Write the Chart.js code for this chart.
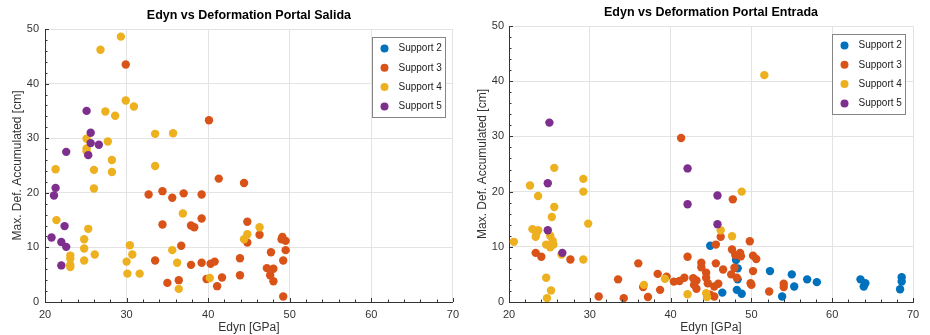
<!DOCTYPE html>
<html>
<head>
<meta charset="utf-8">
<script src="https://cdn.jsdelivr.net/npm/chart.js@4.4.1/dist/chart.umd.min.js"></script>
<style>
  body { margin: 0; background: #fff; width: 930px; height: 335px; overflow: hidden; position: relative; }
  .pane { position: absolute; top: 0; width: 465px; height: 335px; }
</style>
</head>
<body>
<div class="pane" style="left:0"><canvas id="salida"></canvas></div>
<div class="pane" style="left:465px"><canvas id="entrada"></canvas></div>
<script>
// --- Datos: Portal Salida ---
const salidaS2Edyn = [];
const salidaS2Def = [];
const salidaS3Edyn = [29.9, 40.1, 41.3, 44.4, 32.7, 34.4, 35.6, 37.0, 39.2, 34.4, 37.9, 38.3, 39.2, 44.8, 36.7, 44.8, 46.3, 49.1, 49.0, 49.5, 49.5, 47.7, 33.5, 37.9, 39.2, 40.3, 40.8, 43.9, 47.2, 48.0, 47.6, 48.0, 49.2, 43.9, 41.7, 41.1, 39.8, 36.4, 35.0, 49.2];
const salidaS3Def = [43.5, 33.3, 22.6, 21.8, 19.7, 20.3, 19.1, 19.9, 19.7, 14.2, 14.0, 13.7, 15.3, 14.7, 10.3, 10.9, 12.3, 11.9, 11.5, 11.2, 9.5, 9.1, 7.6, 6.8, 7.2, 7.0, 7.4, 8.0, 6.2, 6.1, 4.9, 3.8, 7.6, 4.9, 4.5, 2.9, 4.2, 4.0, 3.5, 1.0];
const salidaS4Edyn = [29.3, 26.8, 29.9, 30.9, 27.4, 28.6, 33.5, 35.7, 25.1, 27.7, 25.1, 25.1, 28.2, 28.2, 26.0, 21.3, 26.0, 33.5, 36.9, 21.4, 25.3, 24.8, 24.8, 24.8, 23.1, 23.1, 23.1, 23.1, 26.1, 30.4, 30.7, 30.0, 30.1, 31.6, 35.6, 36.2, 36.4, 40.2, 46.3, 44.8, 44.4];
const salidaS4Def = [48.6, 46.2, 36.9, 35.8, 34.9, 34.1, 30.8, 30.9, 29.9, 29.4, 28.1, 27.6, 26.0, 23.8, 24.2, 24.3, 20.8, 24.9, 16.2, 15.0, 13.4, 11.5, 9.8, 7.6, 8.5, 7.9, 6.8, 6.4, 8.7, 10.4, 8.7, 7.4, 5.2, 5.2, 9.5, 7.2, 2.4, 4.4, 13.7, 12.4, 11.5];
const salidaS5Edyn = [25.1, 25.6, 25.6, 26.6, 25.3, 22.6, 21.3, 21.1, 22.4, 20.8, 22.0, 22.6, 22.0];
const salidaS5Def = [35.0, 31.0, 29.1, 28.8, 26.9, 27.5, 20.9, 19.5, 13.9, 11.8, 11.0, 10.1, 6.7];

// --- Datos: Portal Entrada ---
const entradaS2Edyn = [44.9, 48.1, 48.3, 48.3, 48.2, 48.8, 46.4, 52.3, 53.8, 55.0, 55.3, 56.9, 58.1, 63.5, 63.9, 64.1, 68.6, 68.6, 68.4];
const entradaS2Def = [10.2, 7.6, 6.1, 4.1, 2.2, 1.5, 1.7, 5.6, 1.0, 5.0, 2.8, 4.1, 3.6, 4.1, 2.8, 3.4, 4.5, 3.7, 2.3];
const entradaS3Edyn = [41.3, 47.7, 49.8, 46.2, 45.6, 47.6, 48.6, 48.7, 48.0, 50.2, 50.6, 42.1, 43.8, 43.8, 45.6, 47.9, 46.5, 50.2, 44.4, 44.4, 44.6, 47.5, 48.2, 36.0, 38.4, 39.5, 40.4, 41.1, 41.7, 42.8, 42.9, 43.2, 43.2, 45.9, 45.4, 49.9, 50.0, 52.2, 54.0, 54.0, 33.5, 36.6, 38.7, 31.1, 34.2, 37.2, 44.9, 45.4, 23.3, 24.0, 27.6];
const entradaS3Def = [29.7, 18.6, 11.0, 11.8, 10.4, 9.5, 8.9, 8.3, 8.5, 8.4, 7.8, 8.2, 7.1, 6.3, 7.0, 6.2, 5.9, 5.6, 5.3, 4.4, 3.4, 5.0, 4.4, 7.0, 5.1, 4.6, 3.7, 3.8, 4.4, 4.3, 3.1, 3.9, 2.4, 3.3, 2.8, 3.4, 3.1, 1.9, 3.3, 2.7, 4.1, 2.7, 2.2, 1.0, 0.7, 0.9, 1.3, 1.0, 8.9, 8.2, 7.7];
const entradaS4Edyn = [51.6, 48.8, 46.2, 47.6, 25.6, 29.2, 29.2, 22.6, 23.6, 25.6, 25.3, 29.8, 22.9, 23.6, 23.4, 23.3, 25.1, 25.4, 25.5, 24.6, 25.1, 20.6, 26.5, 29.2, 24.6, 25.2, 24.7, 36.7, 39.3, 42.1, 44.4, 44.5];
const entradaS4Def = [41.1, 20.0, 13.0, 11.9, 24.3, 22.3, 20.0, 21.1, 19.2, 17.2, 15.4, 14.2, 13.2, 13.0, 12.4, 11.8, 12.0, 11.1, 10.4, 10.4, 9.9, 10.9, 8.6, 7.7, 4.4, 2.1, 0.7, 3.1, 4.2, 1.4, 1.6, 0.9];
const entradaS5Edyn = [25.0, 24.8, 42.1, 42.1, 45.8, 45.8, 24.8, 26.6];
const entradaS5Def = [32.5, 21.5, 24.2, 17.7, 19.3, 14.1, 13.0, 8.9];

// Etiquetas y ejes
const seriesLabels = ['Support 2', 'Support 3', 'Support 4', 'Support 5'];
const xTicks = [20, 30, 40, 50, 60, 70];
const yTicks = [0, 10, 20, 30, 40, 50];

const COLORS = ['#0072BD', '#D95319', '#EDB120', '#7E2F8E'];
const FONT = '"Liberation Sans", Arial, Helvetica, sans-serif';
const AXIS_COLOR = '#333333';

function toPoints(xs, ys) {
    return xs.map((x, i) => ({ x, y: ys[i] }));
}

// Titulo centrado sobre el area del grafico
const plotTitle = {
    id: 'plotTitle',
    afterDraw(chart, args, opts) {
        const { ctx, chartArea } = chart;
        ctx.save();
        ctx.font = `bold 12.5px ${FONT}`;
        ctx.fillStyle = '#000';
        ctx.textAlign = 'center';
        ctx.textBaseline = 'middle';
        ctx.fillText(opts.text, (chartArea.left + chartArea.right) / 2, opts.y);
        ctx.restore();
    }
};

// Marcas hacia dentro (mayores y menores), estilo MATLAB
const innerTicks = {
    id: 'innerTicks',
    afterDraw(chart) {
        const { ctx, chartArea, scales } = chart;
        ctx.save();
        ctx.strokeStyle = AXIS_COLOR;
        ctx.lineWidth = 1;
        ctx.beginPath();
        for (let v = scales.x.min; v <= scales.x.max; v += 2) {
            const px = Math.round(scales.x.getPixelForValue(v)) + 0.5;
            const len = v % 10 === 0 ? 4 : 2.5;
            ctx.moveTo(px, chartArea.bottom);
            ctx.lineTo(px, chartArea.bottom - len);
        }
        for (let v = scales.y.min; v <= scales.y.max; v += 2) {
            const py = Math.round(scales.y.getPixelForValue(v)) + 0.5;
            const len = v % 10 === 0 ? 4 : 2.5;
            ctx.moveTo(chartArea.left, py);
            ctx.lineTo(chartArea.left + len, py);
        }
        ctx.stroke();
        ctx.restore();
    }
};

// Leyenda con recuadro dentro del area (arriba a la derecha)
const boxLegend = {
    id: 'boxLegend',
    afterDraw(chart) {
        const { ctx, chartArea } = chart;
        const w = 73, h = 80;
        const bx = Math.round(chartArea.right - 8 - w) + 0.5;
        const by = Math.round(chartArea.top + 8) + 0.5;
        ctx.save();
        ctx.fillStyle = '#fff';
        ctx.fillRect(bx, by, w, h);
        ctx.strokeStyle = '#858585';
        ctx.lineWidth = 1;
        ctx.strokeRect(bx, by, w, h);
        ctx.font = `10px ${FONT}`;
        ctx.textBaseline = 'middle';
        ctx.textAlign = 'left';
        chart.data.datasets.forEach((ds, i) => {
            const cy = by + 11 + i * 19.3;
            ctx.fillStyle = ds.backgroundColor;
            ctx.beginPath();
            ctx.arc(bx + 12, cy, 4, 0, Math.PI * 2);
            ctx.fill();
            ctx.fillStyle = '#222';
            ctx.fillText(ds.label, bx + 26, cy);
        });
        ctx.restore();
    }
};

function makeChart(id, title, titleY, xsList, ysList, area) {
    const datasets = seriesLabels.map((label, i) => ({
        label,
        data: toPoints(xsList[i], ysList[i]),
        backgroundColor: COLORS[i],
        borderWidth: 0,
        pointRadius: 4.2,
        pointHoverRadius: 4.2,
        order: 4 - i
    }));
    return new Chart(document.getElementById(id), {
        type: 'scatter',
        data: { datasets },
        options: {
            responsive: true,
            maintainAspectRatio: false,
            animation: false,
            layout: { padding: { left: 0, bottom: 0, top: area.top, right: 465 - area.right } },
            plugins: {
                legend: { display: false },
                tooltip: { enabled: false },
                plotTitle: { text: title, y: titleY }
            },
            scales: {
                x: {
                    min: xTicks[0], max: xTicks[xTicks.length - 1],
                    afterBuildTicks: s => { s.ticks = xTicks.map(v => ({ value: v })); },
                    afterFit: s => { s.height = 335 - area.bottom; },
                    grid: { color: '#e3e3e3', drawTicks: false },
                    border: { color: AXIS_COLOR, width: 1 },
                    ticks: { color: AXIS_COLOR, font: { family: FONT, size: 11 }, padding: 6, maxRotation: 0 },
                    title: { display: true, text: 'Edyn [GPa]', color: AXIS_COLOR, font: { family: FONT, size: 12 }, padding: { top: 0, bottom: 0 } }
                },
                y: {
                    min: yTicks[0], max: yTicks[yTicks.length - 1],
                    afterBuildTicks: s => { s.ticks = yTicks.map(v => ({ value: v })); },
                    afterFit: s => { s.width = area.left; },
                    grid: { color: '#e3e3e3', drawTicks: false },
                    border: { color: AXIS_COLOR, width: 1 },
                    ticks: { color: AXIS_COLOR, font: { family: FONT, size: 11 }, padding: area.tickPad },
                    title: { display: true, text: 'Max. Def. Accumulated [cm]', color: AXIS_COLOR, font: { family: FONT, size: 12 }, padding: { top: 10, bottom: 0 } }
                }
            }
        },
        plugins: [innerTicks, boxLegend, plotTitle]
    });
}

makeChart('salida', 'Edyn vs Deformation Portal Salida', 16,
    [salidaS2Edyn, salidaS3Edyn, salidaS4Edyn, salidaS5Edyn],
    [salidaS2Def, salidaS3Def, salidaS4Def, salidaS5Def],
    { left: 45, top: 29, right: 453, bottom: 302, tickPad: 6 });

makeChart('entrada', 'Edyn vs Deformation Portal Entrada', 13,
    [entradaS2Edyn, entradaS3Edyn, entradaS4Edyn, entradaS5Edyn],
    [entradaS2Def, entradaS3Def, entradaS4Def, entradaS5Def],
    { left: 44, top: 26, right: 448, bottom: 302, tickPad: 5 });
</script>
</body>
</html>
